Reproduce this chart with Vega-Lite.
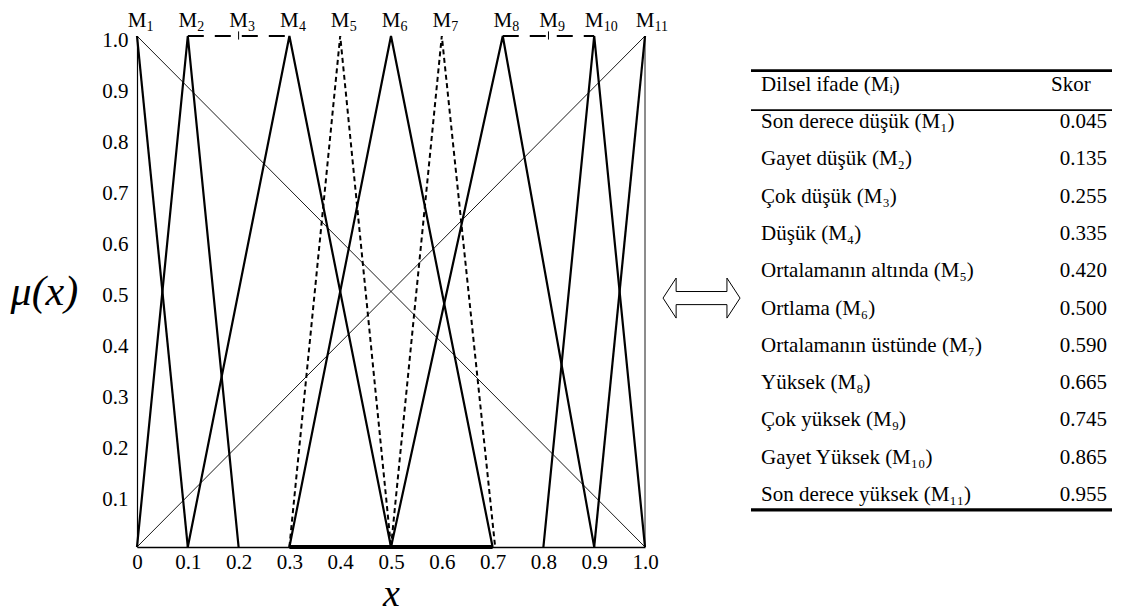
{
  "$schema": "https://vega.github.io/schema/vega-lite/v6.json",
  "background": "white",
  "padding": {"left": 10, "top": 10, "right": 5, "bottom": 2},
  "bounds": "flush",
  "config": {"view": {"stroke": null}, "font": "Times New Roman"},
  "datasets": {
    "segs": [
      {"id": "M1", "x": 0, "mu": 1}, {"id": "M1", "x": 0.1, "mu": 0},
      {"id": "M2", "x": 0, "mu": 0}, {"id": "M2", "x": 0.1, "mu": 1}, {"id": "M2", "x": 0.2, "mu": 0},
      {"id": "M3", "x": 0.1, "mu": 1}, {"id": "M3", "x": 0.3, "mu": 1},
      {"id": "M4", "x": 0.1, "mu": 0}, {"id": "M4", "x": 0.3, "mu": 1}, {"id": "M4", "x": 0.5, "mu": 0},
      {"id": "M5", "x": 0.3, "mu": 0}, {"id": "M5", "x": 0.4, "mu": 1}, {"id": "M5", "x": 0.5, "mu": 0},
      {"id": "M6", "x": 0.3, "mu": 0}, {"id": "M6", "x": 0.5, "mu": 1}, {"id": "M6", "x": 0.7, "mu": 0},
      {"id": "M7", "x": 0.5, "mu": 0}, {"id": "M7", "x": 0.6, "mu": 1}, {"id": "M7", "x": 0.705, "mu": 0},
      {"id": "M8", "x": 0.5, "mu": 0}, {"id": "M8", "x": 0.72, "mu": 1}, {"id": "M8", "x": 0.9, "mu": 0},
      {"id": "M9", "x": 0.72, "mu": 1}, {"id": "M9", "x": 0.9, "mu": 1},
      {"id": "M10", "x": 0.8, "mu": 0}, {"id": "M10", "x": 0.9, "mu": 1}, {"id": "M10", "x": 1, "mu": 0},
      {"id": "M11", "x": 0.9, "mu": 0}, {"id": "M11", "x": 1, "mu": 1},
      {"id": "d1", "x": 0, "mu": 1}, {"id": "d1", "x": 1, "mu": 0},
      {"id": "d2", "x": 0, "mu": 0}, {"id": "d2", "x": 1, "mu": 1},
      {"id": "d3", "x": 1, "mu": 0}, {"id": "d3", "x": 1, "mu": 1},
      {"id": "base", "x": 0.3, "mu": 0}, {"id": "base", "x": 0.7, "mu": 0}
    ],
    "ticks": [
      {"term": "M3", "x": 0.2, "mu": 0.993, "mu2": 1.009},
      {"term": "M9", "x": 0.81, "mu": 0.993, "mu2": 1.009}
    ],
    "terms": [
      {"sira": 1, "term": "M1", "alt": "1", "ad": "Son derece düşük (M₁)", "skor": 0.045, "x": 0, "mu": 1},
      {"sira": 2, "term": "M2", "alt": "2", "ad": "Gayet düşük (M₂)", "skor": 0.135, "x": 0.1, "mu": 1},
      {"sira": 3, "term": "M3", "alt": "3", "ad": "Çok düşük (M₃)", "skor": 0.255, "x": 0.2, "mu": 1},
      {"sira": 4, "term": "M4", "alt": "4", "ad": "Düşük (M₄)", "skor": 0.335, "x": 0.3, "mu": 1},
      {"sira": 5, "term": "M5", "alt": "5", "ad": "Ortalamanın altında (M₅)", "skor": 0.42, "x": 0.4, "mu": 1},
      {"sira": 6, "term": "M6", "alt": "6", "ad": "Ortlama (M₆)", "skor": 0.5, "x": 0.5, "mu": 1},
      {"sira": 7, "term": "M7", "alt": "7", "ad": "Ortalamanın üstünde (M₇)", "skor": 0.59, "x": 0.6, "mu": 1},
      {"sira": 8, "term": "M8", "alt": "8", "ad": "Yüksek (M₈)", "skor": 0.665, "x": 0.72, "mu": 1},
      {"sira": 9, "term": "M9", "alt": "9", "ad": "Çok yüksek (M₉)", "skor": 0.745, "x": 0.81, "mu": 1},
      {"sira": 10, "term": "M10", "alt": "10", "ad": "Gayet Yüksek (M₁₀)", "skor": 0.865, "x": 0.9, "mu": 1},
      {"sira": 11, "term": "M11", "alt": "11", "ad": "Son derece yüksek (M₁₁)", "skor": 0.955, "x": 1, "mu": 1}
    ]
  },
  "spacing": 106,
  "hconcat": [
    {
      "width": 508,
      "height": 511,
      "layer": [
        {
          "data": {"name": "segs"},
          "transform": [{"filter": "indexof(['d1','d2','d3'], datum.id) >= 0"}],
          "mark": {"type": "line", "color": "black", "strokeWidth": 0.9},
          "encoding": {
            "x": {
              "field": "x", "type": "quantitative",
              "scale": {"domain": [0, 1], "nice": false, "zero": false},
              "axis": {
                "values": [0, 0.1, 0.2, 0.3, 0.4, 0.5, 0.6, 0.7, 0.8, 0.9, 1],
                "labelExpr": "datum.value === 0 ? '0' : format(datum.value, '.1f')",
                "ticks": false, "grid": false,
                "domainColor": "black", "domainWidth": 1.5,
                "labelFont": "Times New Roman", "labelFontSize": 21, "labelColor": "black",
                "labelPadding": 4, "labelFlush": false, "labelOverlap": false,
                "title": "x", "titleFont": "Times New Roman", "titleFontSize": 38,
                "titleFontStyle": "italic", "titleFontWeight": "normal", "titleColor": "black",
                "titlePadding": 3
              }
            },
            "y": {
              "field": "mu", "type": "quantitative",
              "scale": {"domain": [0, 1], "nice": false, "zero": false},
              "axis": {
                "values": [0.1, 0.2, 0.3, 0.4, 0.5, 0.6, 0.7, 0.8, 0.9, 1],
                "format": ".1f",
                "ticks": false, "grid": false,
                "domainColor": "black", "domainWidth": 1.2,
                "labelFont": "Times New Roman", "labelFontSize": 21, "labelColor": "black",
                "labelPadding": 9, "labelOffset": 4, "labelFlush": false, "labelOverlap": false,
                "title": "μ(x)", "titleAngle": 0, "titleAlign": "right", "titleBaseline": "middle",
                "titleFont": "Times New Roman", "titleFontSize": 42, "titleFontStyle": "italic",
                "titleFontWeight": "normal", "titleColor": "black", "titlePadding": 24
              }
            },
            "detail": {"field": "id"}
          }
        },
        {
          "data": {"name": "segs"},
          "transform": [{"filter": "datum.id === 'base'"}],
          "mark": {"type": "line", "color": "black", "strokeWidth": 4},
          "encoding": {
            "x": {"field": "x", "type": "quantitative"},
            "y": {"field": "mu", "type": "quantitative"},
            "detail": {"field": "id"}
          }
        },
        {
          "data": {"name": "segs"},
          "transform": [{"filter": "indexof(['M1','M2','M4','M6','M8','M10','M11'], datum.id) >= 0"}],
          "mark": {"type": "line", "color": "black", "strokeWidth": 2.2},
          "encoding": {
            "x": {"field": "x", "type": "quantitative"},
            "y": {"field": "mu", "type": "quantitative"},
            "detail": {"field": "id"}
          }
        },
        {
          "data": {"name": "segs"},
          "transform": [{"filter": "indexof(['M5','M7'], datum.id) >= 0"}],
          "mark": {"type": "line", "color": "black", "strokeWidth": 2, "strokeDash": [5, 3.5]},
          "encoding": {
            "x": {"field": "x", "type": "quantitative"},
            "y": {"field": "mu", "type": "quantitative"},
            "detail": {"field": "id"}
          }
        },
        {
          "data": {"name": "segs"},
          "transform": [{"filter": "indexof(['M3','M9'], datum.id) >= 0"}],
          "mark": {"type": "line", "color": "black", "strokeWidth": 2, "strokeDash": [16, 11]},
          "encoding": {
            "x": {"field": "x", "type": "quantitative"},
            "y": {"field": "mu", "type": "quantitative"},
            "detail": {"field": "id"}
          }
        },
        {
          "data": {"name": "ticks"},
          "mark": {"type": "rule", "color": "black", "strokeWidth": 1},
          "encoding": {
            "x": {"field": "x", "type": "quantitative"},
            "y": {"field": "mu", "type": "quantitative"},
            "y2": {"field": "mu2"}
          }
        },
        {
          "data": {"name": "terms"},
          "mark": {"type": "text", "align": "center", "baseline": "alphabetic", "dy": -9, "fontSize": 21, "font": "Times New Roman", "color": "black", "clip": false},
          "encoding": {
            "x": {"field": "x", "type": "quantitative"},
            "y": {"field": "mu", "type": "quantitative"},
            "text": {"value": "M"}
          }
        },
        {
          "data": {"name": "terms"},
          "mark": {"type": "text", "align": "left", "baseline": "alphabetic", "dx": 9.5, "dy": -5, "fontSize": 14, "font": "Times New Roman", "color": "black", "clip": false},
          "encoding": {
            "x": {"field": "x", "type": "quantitative"},
            "y": {"field": "mu", "type": "quantitative"},
            "text": {"field": "alt"}
          }
        }
      ]
    },
    {
      "width": 361,
      "height": 511,
      "layer": [
        {
          "data": {"name": "terms"},
          "mark": {"type": "text", "align": "left", "baseline": "middle", "fontSize": 21, "font": "Times New Roman", "color": "black"},
          "encoding": {
            "x": {"datum": 0.028, "type": "quantitative", "scale": {"domain": [0, 1], "nice": false, "zero": false}, "axis": null},
            "y": {"field": "sira", "type": "quantitative", "scale": {"domain": [-1.306, 12.394], "nice": false, "zero": false, "reverse": true}, "axis": null},
            "text": {"field": "ad"}
          }
        },
        {
          "data": {"name": "terms"},
          "mark": {"type": "text", "align": "right", "baseline": "middle", "fontSize": 21, "font": "Times New Roman", "color": "black"},
          "encoding": {
            "x": {"datum": 0.986, "type": "quantitative"},
            "y": {"field": "sira", "type": "quantitative"},
            "text": {"field": "skor", "format": ".3f"}
          }
        },
        {
          "data": {"values": [{"baslik": "Dilsel ifade (Mᵢ)"}]},
          "mark": {"type": "text", "align": "left", "baseline": "middle", "fontSize": 21, "font": "Times New Roman", "color": "black"},
          "encoding": {
            "x": {"datum": 0.028, "type": "quantitative"},
            "y": {"datum": 0, "type": "quantitative"},
            "text": {"field": "baslik"}
          }
        },
        {
          "data": {"values": [{"baslik": "Skor"}]},
          "mark": {"type": "text", "align": "center", "baseline": "middle", "fontSize": 21, "font": "Times New Roman", "color": "black"},
          "encoding": {
            "x": {"datum": 0.886, "type": "quantitative"},
            "y": {"datum": 0, "type": "quantitative"},
            "text": {"field": "baslik"}
          }
        },
        {
          "data": {"values": [{}]},
          "mark": {
            "type": "point", "clip": false,
            "shape": "M-1,0L-0.66,-0.52L-0.66,-0.17L0.66,-0.17L0.66,-0.52L1,0L0.66,0.52L0.66,0.17L-0.66,0.17L-0.66,0.52Z",
            "size": 5929, "filled": true, "fill": "white", "stroke": "black", "strokeWidth": 1, "opacity": 1
          },
          "encoding": {
            "x": {"datum": -0.137, "type": "quantitative"},
            "y": {"datum": 5.72, "type": "quantitative"}
          }
        },
        {
          "data": {"values": [{}]},
          "mark": {"type": "rule", "color": "black", "strokeWidth": 2.7},
          "encoding": {
            "x": {"datum": 0, "type": "quantitative"}, "x2": {"datum": 1},
            "y": {"datum": -0.38, "type": "quantitative"}
          }
        },
        {
          "data": {"values": [{}]},
          "mark": {"type": "rule", "color": "black", "strokeWidth": 1.7},
          "encoding": {
            "x": {"datum": 0, "type": "quantitative"}, "x2": {"datum": 1},
            "y": {"datum": 0.68, "type": "quantitative"}
          }
        },
        {
          "data": {"values": [{}]},
          "mark": {"type": "rule", "color": "black", "strokeWidth": 3.3},
          "encoding": {
            "x": {"datum": 0, "type": "quantitative"}, "x2": {"datum": 1},
            "y": {"datum": 11.4, "type": "quantitative"}
          }
        }
      ]
    }
  ]
}
